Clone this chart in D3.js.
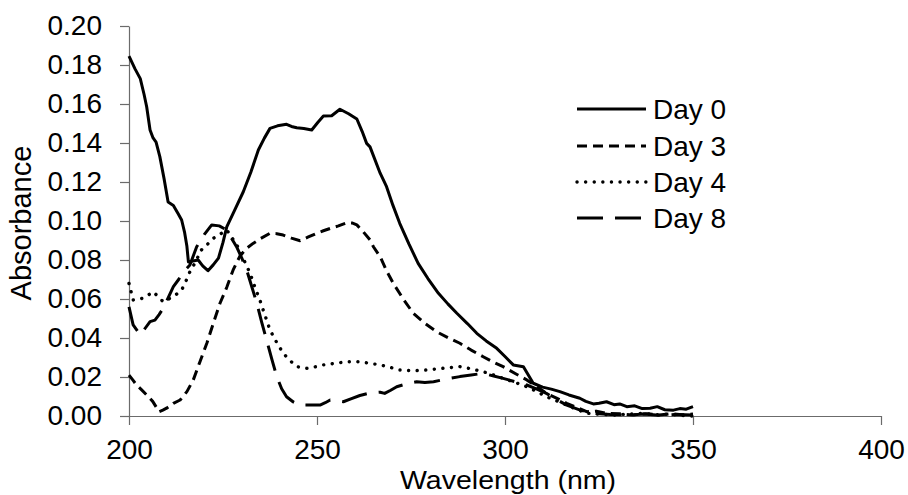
<!DOCTYPE html>
<html>
<head>
<meta charset="utf-8">
<script src="https://cdn.jsdelivr.net/npm/d3@7"></script>
<style>
  html, body { margin: 0; padding: 0; background: #fff; }
  svg { display: block; }
  text { font-family: "Liberation Sans", Arial, sans-serif; fill: #000; }
</style>
</head>
<body>
<svg id="chart" width="908" height="495"></svg>
<script>
// ---- Data (wavelength nm, absorbance) ----
const seriesNames = ["Day 0", "Day 3", "Day 4", "Day 8"];

const day0 = [
  [200,0.1846],[201.6,0.178],[203,0.173],[204,0.165],[204.7,0.1586],[205.6,0.1467],[206.4,0.1426],[207.2,0.1405],
  [208.2,0.133],[209.3,0.122],[210.4,0.1097],[211.8,0.108],[213,0.104],[214,0.1005],[214.8,0.094],[215.4,0.087],
  [215.8,0.079],[217,0.0795],[218.4,0.080],[219.6,0.077],[221,0.0745],[222.4,0.0775],[223.8,0.081],[225,0.089],
  [226,0.097],[228.2,0.106],[230.4,0.115],[232.4,0.125],[234.4,0.1364],[236,0.1425],[237.5,0.1475],[239.5,0.1488],
  [241.9,0.1496],[243.2,0.1485],[244.6,0.1478],[246.5,0.1474],[248.6,0.1467],[250.2,0.1505],[251.7,0.1538],
  [253.9,0.154],[256.1,0.1573],[258.4,0.155],[260.6,0.1523],[262,0.146],[263.2,0.1398],[264.1,0.138],[266.8,0.1245],
  [268.5,0.1176],[270.2,0.108],[272,0.0988],[274.5,0.088],[276.9,0.0783],[279.5,0.0705],[282.3,0.0629],
  [284.8,0.0575],[287.2,0.0527],[290,0.0474],[292.5,0.0424],[295,0.0385],[297.8,0.0347],[300,0.0305],
  [302.2,0.0262],[304.9,0.0253],[306.2,0.021],[307.5,0.0168],[310,0.0148],[312.3,0.0138],[314.6,0.0125],
  [317,0.0108],[319.9,0.0091],[321.5,0.0075],[323.5,0.0062],[325,0.0065],[327,0.0073],[329,0.0058],[330.5,0.0062],
  [332.4,0.0048],[334.5,0.0052],[336.5,0.0038],[338.6,0.004],[340.5,0.0048],[342.5,0.0032],[344.8,0.003],
  [346.5,0.0038],[348.2,0.0035],[350,0.0048]
];

const day3 = [
  [200,0.021],[201,0.0185],[202,0.0159],[203.3,0.0135],[204.7,0.0108],[206.3,0.0075],[208,0.0022],[209,0.003],
  [210,0.004],[211.8,0.0065],[213.6,0.0082],[215.4,0.0125],[217.1,0.0185],[218.9,0.028],[220.7,0.0373],
  [222.5,0.048],[224.2,0.0578],[226,0.066],[227.7,0.0749],[229.5,0.082],[231.3,0.086],[233,0.0885],[235,0.091],
  [237.5,0.0937],[239.3,0.0935],[241,0.0928],[243.2,0.0912],[245.5,0.0899],[247.7,0.0918],[249.9,0.0937],
  [251.7,0.095],[253.5,0.0962],[255.7,0.0975],[257.9,0.0991],[259.3,0.099],[260.6,0.098],[262.3,0.0945],
  [264.1,0.0903],[265,0.0868],[266.8,0.0817],[268.5,0.0745],[270.3,0.068],[273,0.0598],[275.6,0.0527],
  [278.7,0.0475],[281.8,0.0432],[285,0.040],[288,0.0373],[291,0.0338],[294.2,0.0304],[297,0.0275],
  [299.5,0.0253],[302.7,0.0218],[305.8,0.0185],[308.5,0.015],[311,0.0116],[313.7,0.0092],[316.4,0.0065],
  [319,0.0045],[321.7,0.0022],[324.3,0.0025],[327,0.0014],[330.5,0.0012],[334,0.0005],[337.5,0.0012],
  [341,0.0005],[344,0.0012],[347,0.0006],[350,0.001]
];

const day4 = [
  [200,0.068],[201.1,0.0595],[202.5,0.060],[203.8,0.0604],[205.1,0.062],[206.5,0.0637],[207.8,0.061],
  [209.1,0.0586],[210.5,0.060],[211.8,0.0612],[213,0.063],[214,0.0646],[215.1,0.069],[216.2,0.074],
  [217.1,0.077],[218,0.080],[218.9,0.0845],[220.7,0.0877],[222.4,0.0911],[224.2,0.0932],[226,0.0954],
  [227.7,0.0905],[229.5,0.0851],[230.8,0.079],[232.2,0.0732],[233.5,0.066],[234.8,0.0595],[236.1,0.052],
  [237.5,0.0441],[239.2,0.038],[241,0.0322],[242.8,0.0285],[244.6,0.0253],[247.3,0.0245],[249.5,0.0252],
  [251.7,0.0262],[254.8,0.027],[257.9,0.0278],[261.4,0.0278],[264.1,0.027],[266.8,0.0262],[269.4,0.025],
  [272,0.0236],[275.6,0.0232],[279.2,0.0236],[283.6,0.0245],[288,0.0253],[291,0.0242],[294.2,0.0227],
  [297,0.021],[299.5,0.0193],[302.7,0.0172],[305.8,0.015],[308.5,0.0125],[311,0.0099],[313.7,0.0078],
  [316.4,0.0056],[319,0.0035],[321.7,0.0014],[325,0.001],[328.8,0.0005],[332.8,0.001],[336.8,0.0014],
  [340,0.0006],[343.5,0.001],[347,0.0003],[350,0.0]
];

const day8 = [
  [200,0.056],[201.1,0.0467],[203,0.0415],[204.3,0.045],[205.6,0.0484],[206.9,0.0492],[208,0.052],
  [209.1,0.0552],[210.5,0.061],[211.8,0.0663],[213.2,0.070],[214.5,0.074],[216.2,0.0774],[218,0.0868],
  [220,0.093],[222,0.098],[224,0.0975],[226,0.0954],[227.3,0.091],[228.6,0.0868],[230,0.081],[231.3,0.0749],
  [232.7,0.066],[234,0.0578],[235.3,0.048],[236.6,0.039],[238,0.029],[239.3,0.0202],[240.6,0.014],
  [241.9,0.0099],[243.7,0.0072],[245.5,0.0056],[248,0.0056],[250.8,0.0056],[252.2,0.0068],[253.5,0.0082],
  [255.2,0.0078],[257,0.0073],[259,0.0088],[261.4,0.0105],[264,0.0118],[266.8,0.0122],[268,0.0116],
  [269.6,0.0132],[271.2,0.015],[273.8,0.0165],[276.5,0.0176],[278.7,0.0172],[281,0.0176],[284.5,0.019],
  [288,0.0202],[291,0.021],[294.2,0.0219],[297,0.0205],[299.5,0.0193],[302.7,0.0176],[305.8,0.0159],
  [308.5,0.0138],[311,0.0116],[313.7,0.0085],[316.4,0.0056],[320,0.003],[323.5,0.0014],[328,0.0008],
  [332.4,0.0005],[337,0.001],[341,0.0004],[345.5,0.0008],[350,0.0005]
];

const seriesData = [day0, day3, day4, day8];
const xTicks = [200, 250, 300, 350, 400];
const yTicks = [0, 0.02, 0.04, 0.06, 0.08, 0.10, 0.12, 0.14, 0.16, 0.18, 0.20];

// ---- Styles ----
const dashStyles = [null, "10,6", "0.1,8.5", "26,12"];
const lineCaps = ["butt", "butt", "round", "butt"];
const lineWidths = [3, 3, 3.4, 3];

// ---- Layout ----
const svg = d3.select("#chart");
const mLeft = 129, mRight = 881, mTop = 26, mBottom = 416;
const fontSize = 28;

const x = d3.scaleLinear().domain([200, 400]).range([mLeft, mRight]);
const y = d3.scaleLinear().domain([0, 0.20]).range([mBottom, mTop]);

const axisColor = "#6b6b6b";

// Y axis
const yAxis = svg.append("g")
  .attr("transform", `translate(${mLeft},0)`)
  .call(d3.axisLeft(y).tickValues(yTicks).tickFormat(d3.format(".2f"))
        .tickSizeInner(9).tickSizeOuter(0).tickPadding(18));
yAxis.select(".domain").attr("stroke", axisColor).attr("stroke-width", 1.2);
yAxis.selectAll(".tick line").attr("stroke", axisColor).attr("stroke-width", 1.2);
yAxis.selectAll(".tick text").style("font-size", fontSize + "px")
  .style("font-family", "'Liberation Sans', Arial, sans-serif").attr("fill", "#000");

// X axis
const xAxis = svg.append("g")
  .attr("transform", `translate(0,${mBottom})`)
  .call(d3.axisBottom(x).tickValues(xTicks).tickFormat(d3.format("d"))
        .tickSizeInner(9).tickSizeOuter(0).tickPadding(14));
xAxis.select(".domain").attr("stroke", axisColor).attr("stroke-width", 1.2);
xAxis.selectAll(".tick line").attr("stroke", axisColor).attr("stroke-width", 1.2);
xAxis.selectAll(".tick text").style("font-size", fontSize + "px")
  .style("font-family", "'Liberation Sans', Arial, sans-serif").attr("fill", "#000");

// Axis titles
svg.append("text")
  .attr("x", (mLeft + mRight) / 2 + 3)
  .attr("y", 488.5)
  .attr("text-anchor", "middle")
  .attr("textLength", 216)
  .attr("lengthAdjust", "spacingAndGlyphs")
  .style("font-size", "26px")
  .text("Wavelength (nm)");

svg.append("text")
  .attr("transform", `translate(31,${(mTop + mBottom) / 2 + 2}) rotate(-90)`)
  .attr("text-anchor", "middle")
  .style("font-size", "29px")
  .text("Absorbance");

// Lines
const line = d3.line().x(d => x(d[0])).y(d => y(d[1]));
const plot = svg.append("g");
seriesData.forEach((data, i) => {
  plot.append("path")
    .datum(data)
    .attr("fill", "none")
    .attr("stroke", "#000")
    .attr("stroke-width", lineWidths[i])
    .attr("stroke-linejoin", "round")
    .attr("stroke-linecap", lineCaps[i])
    .attr("stroke-dasharray", dashStyles[i])
    .attr("d", line);
});

// Legend
const legend = svg.append("g");
const legendRows = [109, 146, 182, 218];
seriesNames.forEach((name, i) => {
  const yy = legendRows[i];
  legend.append("line")
    .attr("x1", 577).attr("x2", 646)
    .attr("y1", yy).attr("y2", yy)
    .attr("stroke", "#000")
    .attr("stroke-width", lineWidths[i])
    .attr("stroke-linecap", lineCaps[i])
    .attr("stroke-dasharray", dashStyles[i]);
  legend.append("text")
    .attr("x", 653).attr("y", yy)
    .attr("dy", "0.35em")
    .style("font-size", fontSize + "px")
    .text(name);
});
</script>
</body>
</html>
